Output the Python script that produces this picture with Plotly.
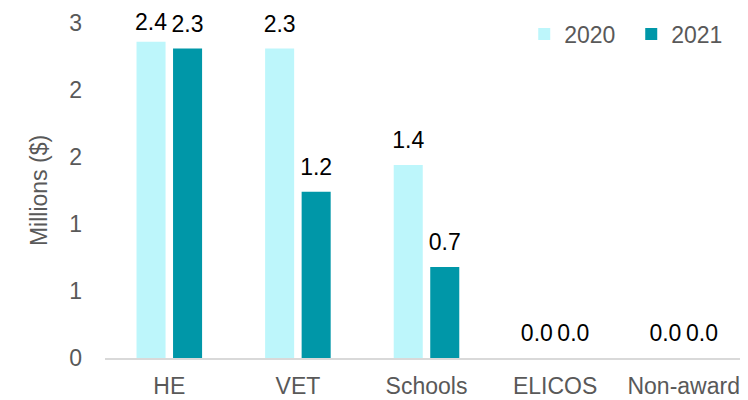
import plotly.graph_objects as go

categories = ["HE", "VET", "Schools", "ELICOS", "Non-award"]
values_2020 = [2.36, 2.31, 1.44, 0.0, 0.0]
values_2021 = [2.31, 1.24, 0.68, 0.0, 0.0]
tick_vals = [0, 0.5, 1.0, 1.5, 2.0, 2.5]
tick_text = ["0", "1", "1", "2", "2", "3"]

FONT = "Liberation Sans, Arial, sans-serif"
GRAY = "#595959"

# (name, values, bar colour, label offset marker sizes)
series = [
    ("2020", values_2020, "#BDF6FB", [8, 16, 16, 16, 16]),
    ("2021", values_2021, "#0097A8", [16, 16, 16, 16, 16]),
]

fig = go.Figure()
for name, vals, color, _ in series:
    fig.add_trace(go.Bar(
        name=name, x=categories, y=vals, offsetgroup=name,
        marker=dict(color=color, line=dict(width=0)),
    ))
for name, vals, color, sizes in series:
    fig.add_trace(go.Scatter(
        x=categories, y=vals, offsetgroup=name, mode="markers+text",
        marker=dict(size=sizes, color="rgba(0,0,0,0)",
                    line=dict(width=0, color="rgba(0,0,0,0)")),
        text=[f"{v:.1f}" for v in vals], textposition="top center",
        textfont=dict(size=23, color="#000000", family=FONT),
        showlegend=False, hoverinfo="skip", cliponaxis=False,
    ))

# page body has an 8px default margin, so the figure is sized to compensate
fig.update_layout(
    width=740, height=392,
    margin=dict(l=97, r=0, t=15, b=42, autoexpand=False),
    paper_bgcolor="white", plot_bgcolor="white",
    font=dict(family=FONT, size=23, color=GRAY),
    barmode="group", bargap=0.432, bargroupgap=0.205,
    scattermode="group", scattergap=0.432,
    showlegend=True,
    legend=dict(orientation="h", x=0.652, xanchor="left", y=0.967, yanchor="middle",
                font=dict(size=23, color=GRAY), itemwidth=30, entrywidth=62,
                bgcolor="rgba(0,0,0,0)"),
)
fig.update_xaxes(
    showline=True, linecolor="#D9D9D9", linewidth=1.5,
    showgrid=False, ticks="", tickfont=dict(size=23, color=GRAY),
    ticklabelstandoff=7, automargin=False,
)
fig.update_yaxes(
    range=[0, 2.5], tickvals=tick_vals, ticktext=tick_text,
    showgrid=False, zeroline=False, showline=False, ticks="",
    ticklabelstandoff=22, automargin=False,
    tickfont=dict(size=23, color=GRAY),
    title=dict(text="Millions ($)", font=dict(size=23, color=GRAY), standoff=15),
)

fig.write_html("out.html")
